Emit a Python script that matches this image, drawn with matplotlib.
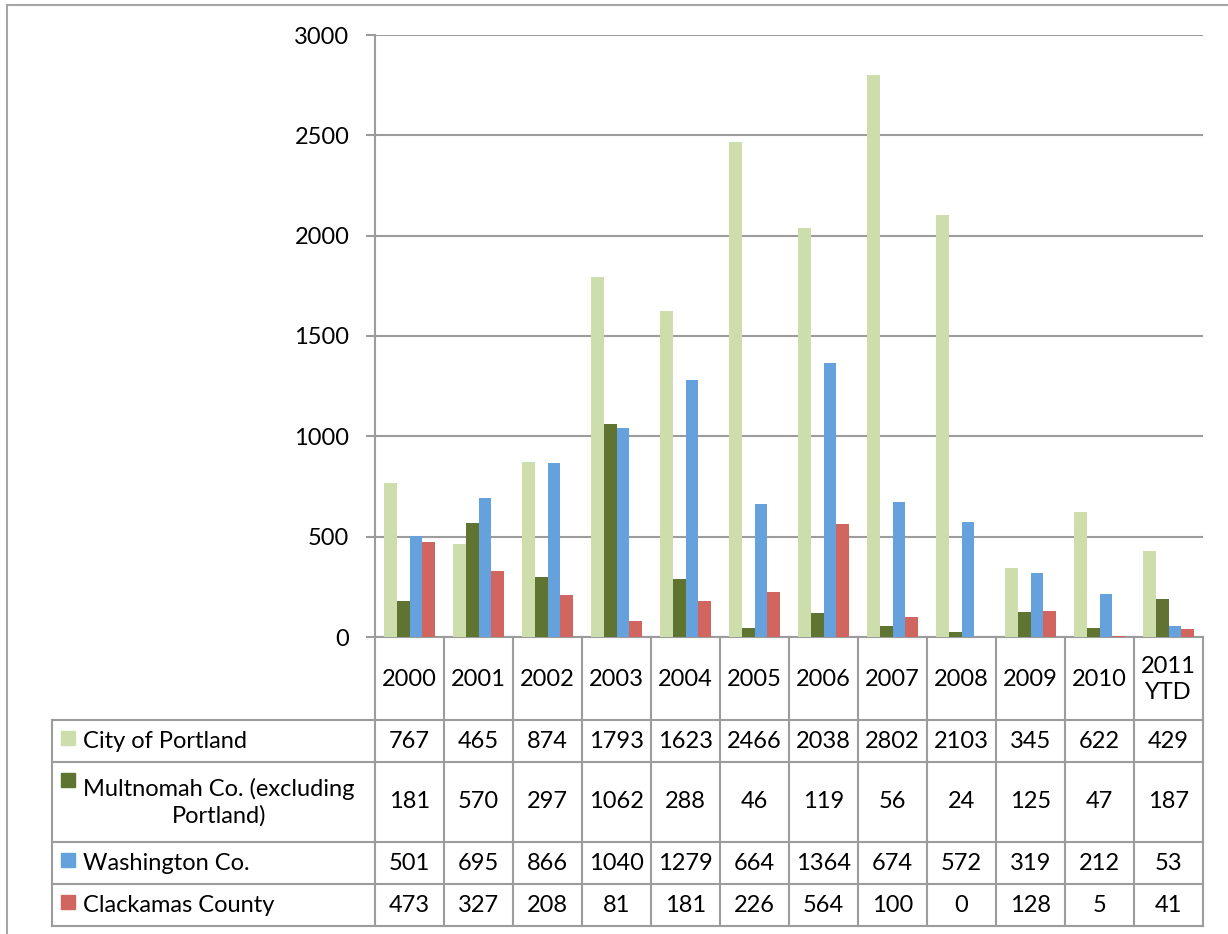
import numpy as np
import matplotlib
matplotlib.use("Agg")
from matplotlib import pyplot as plt

plt.rcParams['font.family'] = ['Lato', 'DejaVu Sans']

# data
years = ['2000', '2001', '2002', '2003', '2004', '2005', '2006', '2007',
         '2008', '2009', '2010', '2011\nYTD']
series_names = ['City of Portland', 'Multnomah Co. (excluding\nPortland)',
                'Washington Co.', 'Clackamas County']
portland = [767, 465, 874, 1793, 1623, 2466, 2038, 2802, 2103, 345, 622, 429]
multnomah = [181, 570, 297, 1062, 288, 46, 119, 56, 24, 125, 47, 187]
washington = [501, 695, 866, 1040, 1279, 664, 1364, 674, 572, 319, 212, 53]
clackamas = [473, 327, 208, 81, 181, 226, 564, 100, 0, 128, 5, 41]

series = [portland, multnomah, washington, clackamas]
colors = ['#CDDDAB', '#5F7431', '#65A2DD', '#D0665F']
grid_col = '#9C9C9C'
fs = 17

W, H = 1228, 934
fig = plt.figure(figsize=(W / 100, H / 100), dpi=100)

# pixel layout
px_left, px_right = 375, 1203
px_top, px_zero = 35, 637
ax = fig.add_axes([px_left / W, 1 - px_zero / H, (px_right - px_left) / W,
                   (px_zero - px_top) / H])

x = np.arange(len(years))
bw = 0.183
for i, (vals, c) in enumerate(zip(series, colors)):
    ax.bar(x + (i - 1.5) * bw, vals, bw, color=c, edgecolor='none',
           zorder=3)

ax.set_xlim(-0.5, len(years) - 0.5)
ax.set_ylim(0, 3000)
ax.set_yticks(np.arange(0, 3001, 500))
ax.yaxis.grid(True, color=grid_col, linewidth=1.5, zorder=0)
ax.set_xticks([])
ax.tick_params(axis='y', length=6.5, width=1.5, color=grid_col, pad=12,
               labelsize=fs)
for s in ['top', 'right']:
    ax.spines[s].set_visible(False)
for s in ['left', 'bottom']:
    ax.spines[s].set_color(grid_col)
    ax.spines[s].set_linewidth(1.5)

# data table underneath, same x scale as the bars
px_bottom = 926
tax = fig.add_axes([px_left / W, 1 - px_bottom / H, (px_right - px_left) / W,
                    (px_bottom - px_zero) / H])
tax.set_xlim(-0.5, len(years) - 0.5)
tax.set_ylim(px_bottom - px_zero, 0)
tax.axis('off')

unit = (px_right - px_left) / len(years)
lab_left = -0.5 - (px_left - 52) / unit
row_edges = [0, 83, 125, 205, 247, 289]
lkw = dict(color=grid_col, linewidth=1.5, clip_on=False, solid_capstyle='projecting')

for j in range(len(years) + 1):
    tax.plot([j - 0.5, j - 0.5], [0, row_edges[-1]], **lkw)
tax.plot([lab_left, lab_left], [row_edges[1], row_edges[-1]], **lkw)
for y in row_edges[1:]:
    tax.plot([lab_left, len(years) - 0.5], [y, y], **lkw)

for j, yr in enumerate(years):
    tax.text(j, (row_edges[0] + row_edges[1]) / 2 + 1, yr, ha='center',
             va='center', fontsize=fs, linespacing=1.3)

key_x = lab_left + 9 / unit
for r, (name, vals, c) in enumerate(zip(series_names, series, colors)):
    y0, y1 = row_edges[r + 1], row_edges[r + 2]
    yc = (y0 + y1) / 2
    tax.add_patch(plt.Rectangle((key_x, y0 + 11), 14 / unit, 14, color=c,
                                clip_on=False))
    tax.text(key_x + 22 / unit, yc, name, ha='left', va='center',
             fontsize=fs, multialignment='center', linespacing=1.3)
    for j, v in enumerate(vals):
        tax.text(j, yc, str(v), ha='center', va='center', fontsize=fs)

# outer frame of the chart area
fig.add_artist(plt.Line2D([7 / W, 1], [1 - 5 / H, 1 - 5 / H],
                          color='#A6A6A6', linewidth=1.5))
fig.add_artist(plt.Line2D([7 / W, 7 / W], [0, 1 - 5 / H],
                          color='#A6A6A6', linewidth=1.5))

fig.savefig('out.png', dpi=100)
